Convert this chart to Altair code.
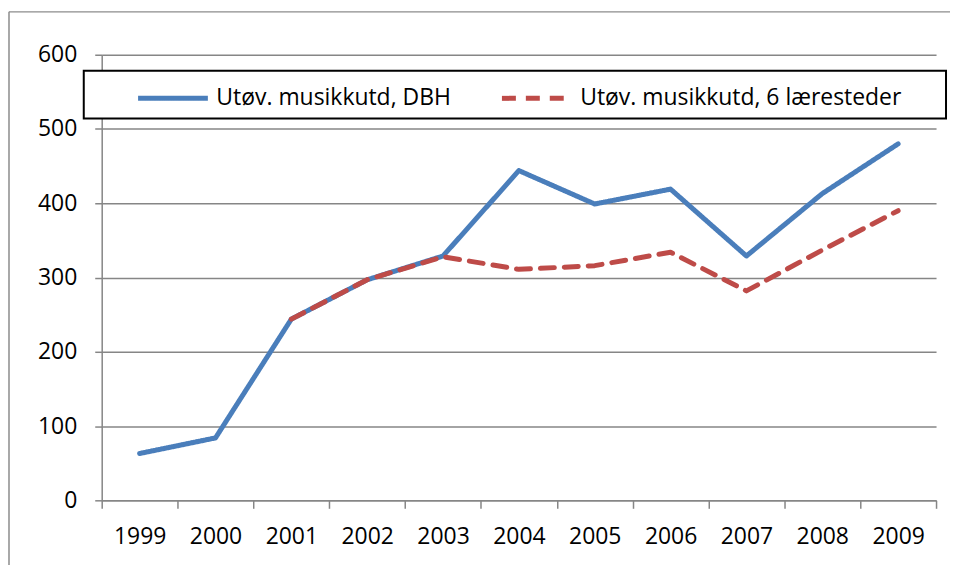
import altair as alt
import pandas as pd

years = [str(y) for y in range(1999, 2010)]
dbh = [63, 84, 244, 297, 329, 444, 399, 419, 329, 413, 480]
six_years = [str(y) for y in range(2001, 2010)]
six = [244, 297, 328, 311, 316, 334, 282, 337, 390]
y_ticks = [0, 100, 200, 300, 400, 500, 600]

s1 = "Utøv. musikkutd, DBH"
s2 = "Utøv. musikkutd, 6 læresteder"

df = pd.DataFrame({
    "year": years + six_years,
    "value": dbh + six,
    "series": [s1] * len(dbh) + [s2] * len(six),
})

FONT = "Open Sans"
GRAY = "#868686"

leg = dict(title=None, orient="none", legendX=34, legendY=6,
           direction="horizontal", symbolType="stroke",
           symbolSize=4900, symbolStrokeWidth=5,
           labelFont=FONT, labelFontSize=23, labelColor="black",
           labelOffset=6, columnPadding=40, padding=0, labelLimit=500)

lines = alt.Chart(df).mark_line(strokeWidth=5, strokeCap="round", strokeJoin="round").encode(
    x=alt.X("year:O", sort=years,
            scale=alt.Scale(type="band", paddingInner=0, paddingOuter=0, domain=years),
            axis=alt.Axis(title=None, labelAngle=0, tickBand="extent", grid=False,
                          tickSize=8, labelPadding=17)),
    y=alt.Y("value:Q", scale=alt.Scale(domain=[0, 600], nice=False),
            axis=alt.Axis(title=None, values=y_ticks, grid=True, tickSize=7,
                          labelPadding=18)),
    color=alt.Color("series:N",
                    scale=alt.Scale(domain=[s1, s2], range=["#4a7ebb", "#be4b48"]),
                    legend=alt.Legend(**leg)),
    strokeDash=alt.StrokeDash("series:N",
                              scale=alt.Scale(domain=[s1, s2], range=[[1, 0], [14, 10]]),
                              legend=alt.Legend(**leg)),
)

one = pd.DataFrame({"a": [0]})

legend_box = alt.Chart(one).mark_rect(fill="white", stroke="black", strokeWidth=2).encode(
    x=alt.value(-18), x2=alt.value(847), y=alt.value(16), y2=alt.value(64)
)

border_top = alt.Chart(one).mark_rule(color="#8c8c8c", strokeWidth=1.5).encode(
    x=alt.value(-93), x2=alt.value(860), y=alt.value(-43)
)
border_left = alt.Chart(one).mark_rule(color="#8c8c8c", strokeWidth=1.5).encode(
    x=alt.value(-93), y=alt.value(-43), y2=alt.value(530)
)

chart = alt.layer(border_top, border_left, legend_box, lines).properties(
    width=837, height=447,
    autosize=alt.AutoSizeParams(type="none"),
    padding={"left": 94, "top": 46, "right": 14, "bottom": 64},
).configure_view(stroke=None).configure_axis(
    domainColor=GRAY, domainWidth=1.5, tickColor=GRAY, tickWidth=1.5,
    gridColor=GRAY, gridWidth=1.5, labelColor="black", labelFont=FONT, labelFontSize=23,
)

chart.save("out.html", embed_options={"renderer": "svg", "actions": False})
